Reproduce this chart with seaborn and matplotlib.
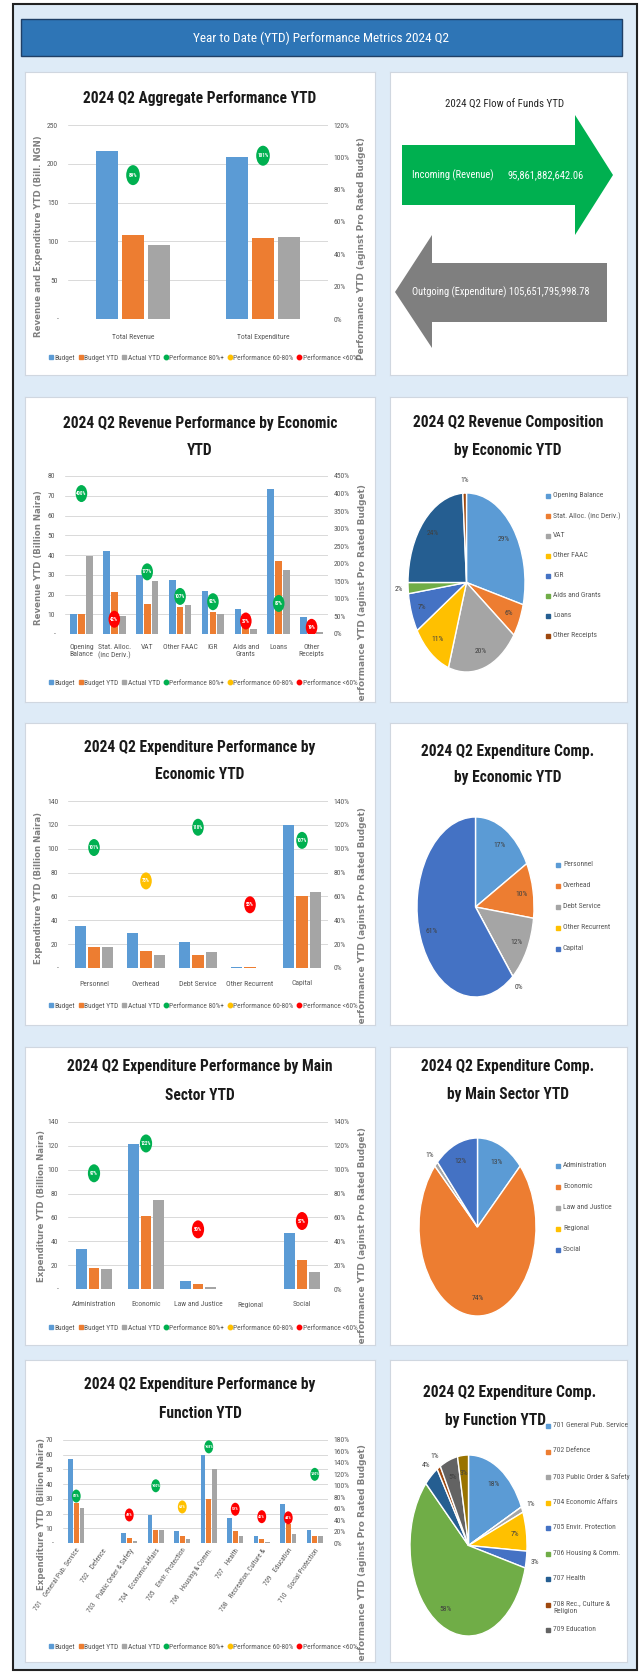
import numpy as np
import pandas as pd
import matplotlib
matplotlib.use('Agg')
import matplotlib.pyplot as plt
import seaborn as sns
from matplotlib import font_manager
from matplotlib.path import Path
from matplotlib.patches import Rectangle, Polygon
from matplotlib.lines import Line2D
from matplotlib.transforms import Affine2D

W, H = 642, 1675

# ---------------- data ----------------
series = ['Budget', 'Budget YTD', 'Actual YTD']
perf_names = ['Performance 80%+', 'Performance 60-80%', 'Performance <60%']

# aggregate
agg_cats = ['Total Revenue', 'Total Expenditure']
agg_budget = [216.5, 209.0]
agg_budget_ytd = [108.2, 104.5]
agg_actual = [95.9, 105.7]
agg_perf = [89, 101]

# flow of funds
incoming_label = 'Incoming (Revenue)'
incoming_amount = 95861882642.06
outgoing_label = 'Outgoing (Expenditure)'
outgoing_amount = 105651795998.78

# revenue by economic
rev_cats = ['Opening\nBalance', 'Stat. Alloc.\n(inc Deriv.)', 'VAT', 'Other FAAC', 'IGR',
            'Aids and\nGrants', 'Loans', 'Other\nReceipts']
rev_budget = [10.3, 41.8, 30.0, 27.4, 21.9, 12.5, 73.2, 8.6]
rev_budget_ytd = [10.3, 21.2, 15.2, 13.8, 11.0, 6.3, 37.2, 4.3]
rev_actual = [39.6, 8.9, 26.9, 14.8, 10.1, 2.3, 32.5, 0.8]
rev_perf = [400, 42, 177, 107, 92, 37, 87, 19]

rev_pie_names = ['Opening Balance', 'Stat. Alloc. (inc Deriv.)', 'VAT', 'Other FAAC', 'IGR',
                 'Aids and Grants', 'Loans', 'Other Receipts']
rev_pie_share = [29, 6, 20, 11, 7, 2, 24, 1]

# expenditure by economic
exp_cats = ['Personnel', 'Overhead', 'Debt Service', 'Other Recurrent', 'Capital']
exp_budget = [34.8, 29.3, 21.4, 0.6, 120.0]
exp_budget_ytd = [17.2, 14.5, 11.1, 0.5, 60.0]
exp_actual = [17.3, 10.6, 13.1, 0.3, 64.1]
exp_perf = [101, 73, 118, 53, 107]
exp_pie_share = [17, 10, 12, 0, 61]

# expenditure by main sector
sec_cats = ['Administration', 'Economic', 'Law and Justice', 'Regional', 'Social']
sec_budget = [33.4, 121.9, 6.9, 0.0, 47.2]
sec_budget_ytd = [17.5, 61.2, 4.2, 0.0, 24.5]
sec_actual = [16.7, 74.5, 1.7, 0.0, 13.9]
sec_perf = [97, 122, 50, np.nan, 57]
sec_pie_share = [13, 74, 1, 0, 12]

# expenditure by function
fun_cats = ['701    General Pub. Service', '702    Defence', '703    Public Order & Safety',
            '704    Economic Affairs', '705    Envir. Protection', '706    Housing & Comm.',
            '707    Health', '708    Recreation, Culture &', '709    Education',
            '710    Social Protection']
fun_budget = [56.8, 0.0, 6.6, 19.1, 8.4, 59.5, 17.0, 4.5, 26.4, 8.9]
fun_budget_ytd = [27.3, 0.0, 3.4, 8.9, 4.5, 30.0, 8.4, 3.0, 13.0, 4.5]
fun_actual = [23.9, 0.0, 1.4, 8.9, 2.7, 50.2, 5.0, 0.9, 5.9, 5.0]
fun_perf = [82, np.nan, 49, 100, 63, 168, 59, 46, 44, 120]

fun_pie_names = ['701 General Pub. Service', '702 Defence', '703 Public Order & Safety',
                 '704 Economic Affairs', '705 Envir. Protection', '706 Housing & Comm.',
                 '707 Health', '708 Rec., Culture &\nReligion', '709 Education',
                 '710 Social Protection']
fun_pie_share = [18, 0, 1, 7, 3, 58, 4, 1, 5, 3]

# ---------------- style ----------------
bar_colors = ['#5B9BD5', '#ED7D31', '#A5A5A5']
perf_colors = ['#00B050', '#FFC000', '#FF0000']
office = ['#5B9BD5', '#ED7D31', '#A5A5A5', '#FFC000', '#4472C4', '#70AD47',
          '#255E91', '#9E480E', '#636363', '#997300']
GREY = '#595959'

sns.set_theme(style='white')
available = {f.name for f in font_manager.fontManager.ttflist}
NARROW = next((f for f in ['Liberation Sans Narrow', 'Roboto Condensed', 'DejaVu Sans Condensed']
               if f in available), 'Liberation Sans')
plt.rcParams['font.family'] = [NARROW, 'DejaVu Sans']

ELLIPSE = Path.unit_circle().transformed(Affine2D().scale(0.68, 1.0))


def frac(x0, y0, x1, y1):
    return [x0 / W, 1 - y1 / H, (x1 - x0) / W, (y1 - y0) / H]


def perf_color(p):
    if p >= 80:
        return perf_colors[0]
    if p >= 60:
        return perf_colors[1]
    return perf_colors[2]


def panel(x0, y0, x1, y1):
    ax = fig.add_axes(frac(x0, y0, x1, y1))
    ax.set_xlim(x0, x1)
    ax.set_ylim(y1, y0)
    ax.set_xticks([])
    ax.set_yticks([])
    ax.set_facecolor('white')
    for s in ax.spines.values():
        s.set_color('#D0D7E0')
        s.set_linewidth(0.8)
    return ax


def title(bg, lines, fs=11.2):
    for txt, x, y in lines:
        bg.text(x, y, txt, ha='center', va='center', fontsize=fs, fontweight='bold',
                color='#1a1a1a')


def bar_chart(bg, plot, cats, budget, budget_ytd, actual, perf, ylim, plim, width, dot_px,
              ytitle, ytitle_xy, ptitle_xy, legend_y, xpad=8, xrot=0, dot_fs=3.4):
    ax = fig.add_axes(frac(*plot))
    df = pd.DataFrame({
        'category': list(cats) * 3,
        'series': np.repeat(series, len(cats)),
        'value': list(budget) + list(budget_ytd) + list(actual),
    })
    sns.barplot(data=df, x='category', y='value', hue='series', order=cats,
                hue_order=series, palette=bar_colors, width=width, gap=0.14,
                saturation=1, linewidth=0, legend=False, ax=ax)
    ax.set_xlabel('')
    ax.set_ylabel('')
    ax.set_ylim(0, ylim[0])
    yt = np.arange(0, ylim[0] + ylim[1] / 2, ylim[1])
    ax.set_yticks(yt)
    ax.set_yticklabels(['-' if t == 0 else f'{t:g}' for t in yt])
    ax.grid(axis='y', color='#D9D9D9', lw=0.7)
    ax.set_axisbelow(True)
    ax.patch.set_alpha(0)
    for s in ax.spines.values():
        s.set_visible(False)
    ax.tick_params(axis='y', length=0, pad=7, labelsize=5.5, labelcolor=GREY)
    ax.tick_params(axis='x', length=0, pad=xpad, labelsize=5.5, labelcolor=GREY)
    if xrot:
        for lab in ax.get_xticklabels():
            lab.set_rotation(xrot)
            lab.set_ha('right')
            lab.set_rotation_mode('anchor')
            lab.set_fontsize(5)

    # performance dots on the secondary axis
    ax2 = ax.twinx()
    ax2.set_ylim(0, plim[0])
    pt = np.arange(0, plim[0] + plim[1] / 2, plim[1])
    ax2.set_yticks(pt)
    ax2.set_yticklabels([f'{t:.0f}%' for t in pt])
    ax2.tick_params(axis='y', length=0, pad=4, labelsize=5.5, labelcolor=GREY)
    for s in ax2.spines.values():
        s.set_visible(False)
    xs = np.arange(len(cats))
    perf = np.asarray(perf, dtype=float)
    ok = ~np.isnan(perf)
    ax2.scatter(xs[ok], perf[ok], s=(dot_px * 0.72) ** 2, marker=ELLIPSE,
                c=[perf_color(p) for p in perf[ok]], linewidths=0, zorder=3)
    for x, p in zip(xs[ok], perf[ok]):
        ax2.text(x, p, f'{p:.0f}%', ha='center', va='center', fontsize=dot_fs,
                 color='white', fontweight='bold', zorder=4)
    # scatter autoscales the shared x axis, put the category limits back
    ax.set_xlim(-0.5, len(cats) - 0.5)

    bg.text(*ytitle_xy, ytitle, rotation=90, ha='center', va='center', fontsize=6.2,
            fontweight='bold', color='#808080', family='DejaVu Sans')
    bg.text(*ptitle_xy, 'Performance YTD (aginst Pro Rated Budget)', rotation=90,
            ha='center', va='top', fontsize=6.4, fontweight='bold', color='#808080',
            family='DejaVu Sans', clip_on=True)

    handles = [Line2D([], [], ls='', marker='s', ms=3.2, color=c) for c in bar_colors]
    handles += [Line2D([], [], ls='', marker='o', ms=3.2, color=c) for c in perf_colors]
    fig.legend(handles, series + perf_names, loc='center', bbox_to_anchor=(203 / W, 1 - legend_y / H),
               ncol=6, fontsize=5.3, frameon=False, handlelength=0.6, handletextpad=0.15,
               columnspacing=0.5, labelcolor=GREY, borderpad=0, borderaxespad=0)
    return ax


def pie_chart(box, shares, colors, where, r_in=0.8, r_out=1.15):
    ax = fig.add_axes(frac(*box))
    wedges, _ = ax.pie(shares, colors=colors, startangle=90, counterclock=False,
                       wedgeprops=dict(edgecolor='white', linewidth=1.0, clip_on=False))
    ax.set_aspect('auto')
    ax.set_xlim(-1, 1)
    ax.set_ylim(-1, 1)
    for w, s, loc in zip(wedges, shares, where):
        if not loc:
            continue
        ang = np.deg2rad((w.theta1 + w.theta2) / 2)
        r = r_out if loc == 'out' else r_in
        ax.text(r * np.cos(ang), r * np.sin(ang), f'{s}%', ha='center', va='center',
                fontsize=5.5, color='#404040')
    return ax


def pie_legend(bg, x, y0, dy, names, colors, fs=5.5):
    for i, (name, c) in enumerate(zip(names, colors)):
        y = y0 + i * dy
        bg.plot(x, y, ls='', marker='s', ms=2.3, color=c)
        bg.text(x + 5, y - 4, name, ha='left', va='top', fontsize=fs, color=GREY,
                linespacing=1.25)


fig = plt.figure(figsize=(W / 100, H / 100), dpi=100)
fig.patch.set_facecolor('white')

# frame and banner
base = fig.add_axes([0, 0, 1, 1])
base.set_xlim(0, W)
base.set_ylim(H, 0)
base.axis('off')
base.add_patch(Rectangle((13, 4), 624, 1666, facecolor='#DEEBF7', edgecolor='#222222', lw=1.5))
base.add_patch(Rectangle((21, 19), 601, 37, facecolor='#2E75B6', edgecolor='#1F3F66', lw=1))
base.text(321, 38, 'Year to Date (YTD) Performance Metrics 2024 Q2', ha='center', va='center',
          fontsize=9.5, color='white')

# ---- row 1: aggregate + flow of funds ----
bg = panel(25, 72, 375, 375)
title(bg, [('2024 Q2 Aggregate Performance YTD', 200, 98)])
bar_chart(bg, (68, 125, 328, 319), agg_cats, agg_budget, agg_budget_ytd, agg_actual, agg_perf,
          (250, 50), (120, 20), 0.6, 20, 'Revenue and Expenditure YTD (Bill. NGN)', (39, 236),
          (362, 137), 358, xpad=11, dot_fs=3.8)

bg = panel(390, 72, 627, 375)
bg.text(505, 105, '2024 Q2 Flow of Funds YTD', ha='center', va='center', fontsize=7.8,
        color='#262626')
bg.add_patch(Polygon([(402, 145), (575, 145), (575, 115), (613, 175), (575, 235), (575, 205),
                      (402, 205)], closed=True, facecolor='#00B050', edgecolor='none'))
bg.add_patch(Polygon([(395, 292), (432, 235), (432, 263), (607, 263), (607, 322), (432, 322),
                      (432, 348)], closed=True, facecolor='#7F7F7F', edgecolor='none'))
bg.text(412, 175, incoming_label, ha='left', va='center', fontsize=7.5, color='white')
bg.text(508, 175, f'{incoming_amount:,.2f}', ha='left', va='center', fontsize=7.6, color='white')
bg.text(412, 292, f'{outgoing_label} {outgoing_amount:,.2f}', ha='left', va='center',
        fontsize=7.5, color='white')

# ---- row 2: revenue by economic ----
bg = panel(25, 397, 375, 702)
title(bg, [('2024 Q2 Revenue Performance by Economic', 200, 423), ('YTD', 200, 450)])
bar_chart(bg, (65, 476, 328, 634), rev_cats, rev_budget, rev_budget_ytd, rev_actual, rev_perf,
          (80, 10), (450, 50), 0.72, 17, 'Revenue YTD (Billion Naira)', (39, 558),
          (363, 484), 683, xpad=7)

bg = panel(390, 397, 627, 702)
title(bg, [('2024 Q2 Revenue Composition', 508, 422), ('by Economic YTD', 508, 450)])
pie_chart((408, 493, 525, 672), rev_pie_share, office[:8],
          ['in', 'in', 'in', 'in', 'in', 'out', 'in', 'out'])
pie_legend(bg, 548, 496, 20, rev_pie_names, office[:8])

# ---- row 3: expenditure by economic ----
bg = panel(25, 723, 375, 1025)
title(bg, [('2024 Q2 Expenditure Performance by', 200, 748), ('Economic YTD', 200, 775)])
bar_chart(bg, (68, 801, 328, 968), exp_cats, exp_budget, exp_budget_ytd, exp_actual, exp_perf,
          (140, 20), (140, 20), 0.78, 17, 'Expenditure YTD (Billion Naira)', (39, 888),
          (363, 807), 1006, xpad=9)

bg = panel(390, 723, 627, 1025)
title(bg, [('2024 Q2 Expenditure Comp.', 508, 752), ('by Economic YTD', 508, 778)])
pie_chart((417, 817, 534, 997), exp_pie_share, office[:5], ['in', 'in', 'in', 'out', 'in'])
pie_legend(bg, 558, 865, 21, exp_cats, office[:5])

# ---- row 4: expenditure by main sector ----
bg = panel(25, 1047, 375, 1345)
title(bg, [('2024 Q2 Expenditure Performance by Main', 200, 1067), ('Sector YTD', 200, 1095)])
bar_chart(bg, (68, 1122, 328, 1289), sec_cats, sec_budget, sec_budget_ytd, sec_actual, sec_perf,
          (140, 20), (140, 20), 0.72, 18, 'Expenditure YTD (Billion Naira)', (42, 1206),
          (363, 1127), 1328, xpad=9)

bg = panel(390, 1047, 627, 1345)
title(bg, [('2024 Q2 Expenditure Comp.', 508, 1067), ('by Main Sector YTD', 508, 1095)])
pie_chart((419, 1138, 536, 1316), sec_pie_share, office[:5], ['in', 'in', 'out', '', 'in'])
pie_legend(bg, 558, 1166, 21, sec_cats, office[:5])

# ---- row 5: expenditure by function ----
bg = panel(25, 1360, 375, 1662)
title(bg, [('2024 Q2 Expenditure Performance by', 200, 1385), ('Function YTD', 200, 1413)])
bar_chart(bg, (63, 1440, 328, 1543), fun_cats, fun_budget, fun_budget_ytd, fun_actual, fun_perf,
          (70, 10), (180, 20), 0.65, 13, 'Expenditure YTD (Billion Naira)', (42, 1514),
          (363, 1444), 1647, xpad=3, xrot=55, dot_fs=3.0)

bg = panel(390, 1360, 627, 1662)
title(bg, [('2024 Q2 Expenditure Comp.', 510, 1393), ('by Function YTD', 496, 1420)])
pie_chart((410, 1455, 527, 1636), fun_pie_share, office[:10],
          ['in', '', 'out', 'in', 'out', 'in', 'out', 'out', 'in', 'in'])
pie_legend(bg, 548, 1426, 25.5, fun_pie_names[:9], office[:9])

fig.savefig('out.png', dpi=100)
